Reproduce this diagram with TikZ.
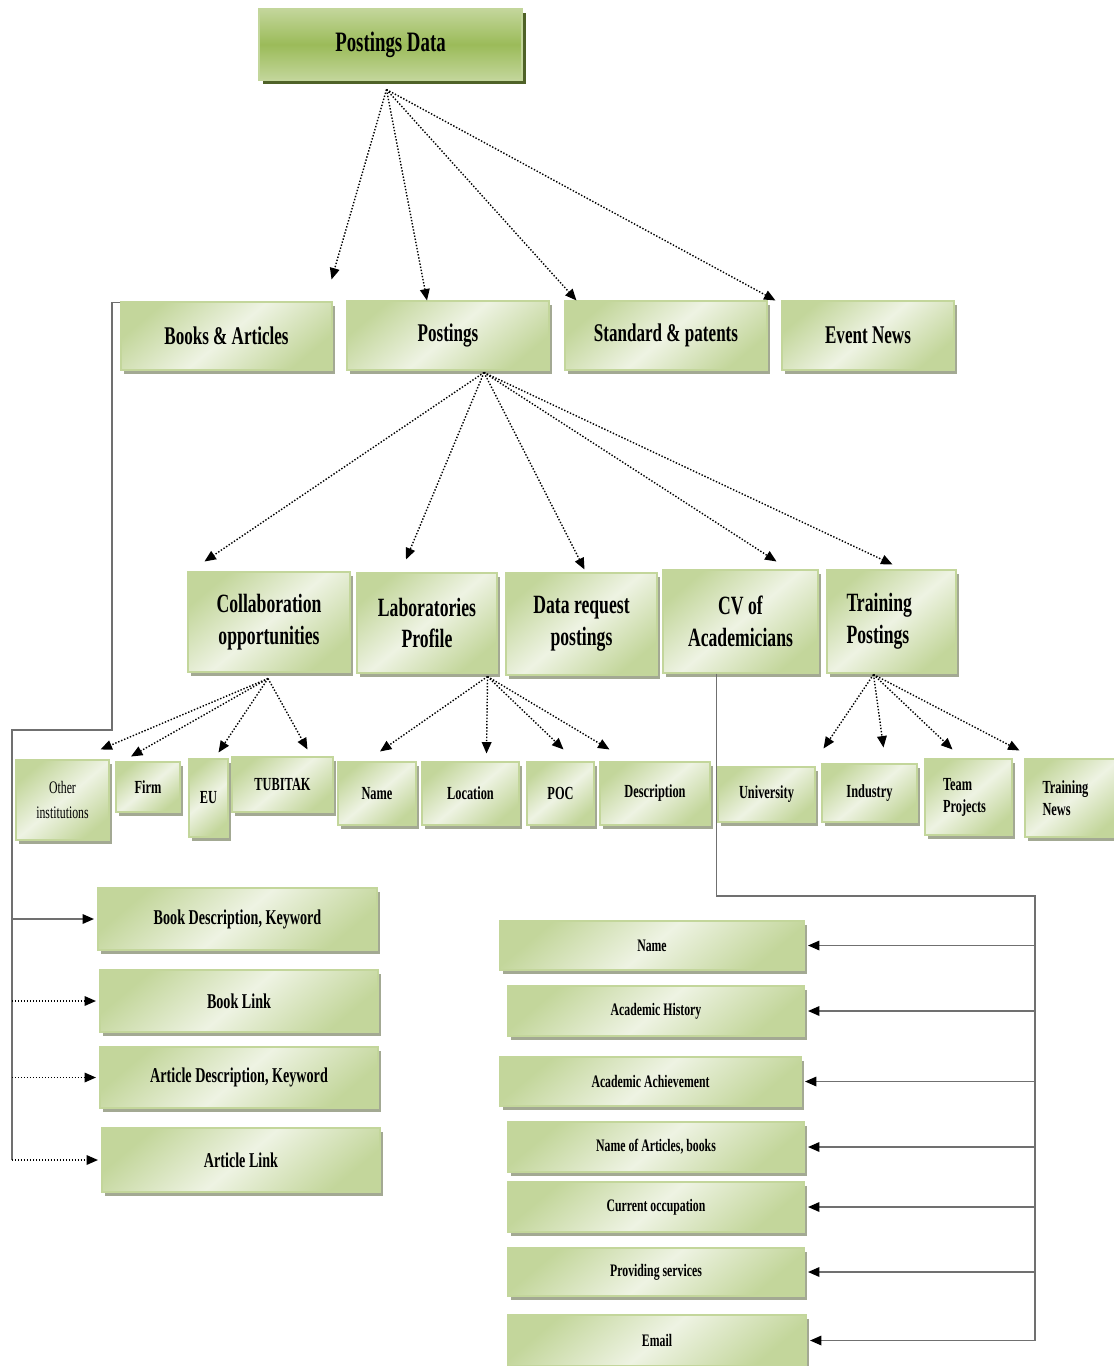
\documentclass[tikz,border=0pt]{standalone}
\usepackage{fontspec}
\setmainfont{Liberation Serif}[FakeStretch=0.67]
\usetikzlibrary{arrows.meta,shadows}

\definecolor{gedge}{HTML}{C3D69B}
\definecolor{glight}{HTML}{EEF3E3}
\definecolor{gmid}{HTML}{9BBB59}
\definecolor{gdark}{HTML}{4F6228}
\definecolor{shadowc}{HTML}{8C9478}
\definecolor{linkc}{HTML}{707070}

\begin{document}
\begin{tikzpicture}[x=0.02cm, y=-0.02cm,
  base/.style={draw=gedge, line width=0.6pt, align=center, inner sep=2pt},
  box/.style={base, top color=gedge, bottom color=gedge, middle color=glight, shading angle=40,
    drop shadow={shadow xshift=1.8pt, shadow yshift=-2.3pt, fill=shadowc, opacity=0.8}},
  topbox/.style={base, top color=gedge, bottom color=gedge, middle color=gmid, shading angle=0,
    drop shadow={shadow xshift=2.2pt, shadow yshift=-2.3pt, fill=gdark, opacity=1}},
  wh/.style 2 args={minimum width=#1*0.02cm, minimum height=#2*0.02cm},
  big/.style={font=\fontsize{16}{19}\selectfont\bfseries},
  mid/.style={font=\fontsize{14.5}{17}\selectfont\bfseries},
  lvl/.style={font=\fontsize{15}{18}\selectfont\bfseries},
  leaf/.style={font=\fontsize{10.5}{12.5}\selectfont\bfseries},
  item/.style={font=\fontsize{12}{14}\selectfont\bfseries},
  cvitem/.style={font=\fontsize{10}{12}\selectfont\bfseries},
  tip/.style={-{Triangle[length=6.5pt,width=5.5pt,color=black]}},
  conn/.style={tip, densely dotted, line width=0.8pt},
  link/.style={draw=linkc, line width=0.7pt},
  linkarr/.style={link, tip, shorten >=2pt},
  dotarr/.style={linkarr, densely dotted, draw=black}]

\useasboundingbox (0,0) rectangle (1113,1366);

% top level
\node[topbox, wh={263}{71}, big] (pd) at (390.5,44.5) {Postings Data};

% second level
\node[box, wh={211}{68}, mid] (ba) at (226.5,336) {Books \& Articles};
\node[box, wh={202}{69}, mid] (po) at (448,335.5) {Postings};
\node[box, wh={202}{69}, mid] (sp) at (666,335.5) {Standard \& patents};
\node[box, wh={172}{69}, mid] (en) at (868,335.5) {Event News};

% third level
\node[box, wh={162}{100}, lvl] (co) at (269,622) {Collaboration\\opportunities};
\node[box, wh={140}{100}, lvl] (lp) at (427,623) {Laboratories\\Profile};
\node[box, wh={151}{102}, lvl] (dr) at (581.5,624) {Data request\\postings};
\node[box, wh={155}{103}, lvl] (cv) at (740.5,621.5) {CV of\\Academicians};
\node[box, wh={129}{103}, lvl, align=left, text width=1.8cm] (tp) at (891.5,621.5) {Training\\Postings};

% leaves
\node[box, wh={93}{80}, leaf, font=\fontsize{10}{14}\selectfont] (oi) at (62.5,800) {Other\\institutions};
\node[box, wh={64}{50}, leaf] (fi) at (148,787) {Firm};
\node[box, wh={39}{78}, leaf] (eu) at (208.5,798) {EU};
\node[box, wh={101}{55}, leaf] (tb) at (282.5,784.5) {TUBITAK};
\node[box, wh={78}{63}, leaf] (nm) at (377,793.5) {Name};
\node[box, wh={97}{63}, leaf] (lo) at (470.5,793.5) {Location};
\node[box, wh={67}{63}, leaf] (pc) at (560.5,793.5) {POC};
\node[box, wh={110}{63}, leaf] (de) at (655,793.5) {Description};
\node[box, wh={97}{55}, leaf] (un) at (766.5,794.5) {University};
\node[box, wh={95}{58}, leaf] (in) at (869.5,793) {Industry};
\node[box, wh={87}{76}, leaf, align=left, text width=1.02cm] (tm) at (968.5,797) {Team\\Projects};
\node[box, wh={95}{78}, leaf, align=left, text width=1.2cm] (tn) at (1072.5,798) {Training\\News};

% books and articles
\node[box, wh={279}{62}, item] (bd) at (237.5,919) {Book Description, Keyword};
\node[box, wh={278}{62}, item] (bl) at (239,1001) {Book Link};
\node[box, wh={278}{61}, item] (ad) at (239,1077.5) {Article Description, Keyword};
\node[box, wh={278}{64}, item] (al) at (241,1160) {Article Link};

% cv of academicians
\node[box, wh={304}{49}, cvitem] (cn) at (652,945.5) {Name};
\node[box, wh={296}{50}, cvitem] (ah) at (656,1011) {Academic History};
\node[box, wh={301}{49}, cvitem] (aa) at (650.5,1081.5) {Academic Achievement};
\node[box, wh={296}{50}, cvitem] (na) at (656,1147) {Name of Articles, books};
\node[box, wh={296}{50}, cvitem] (oc) at (656,1207) {Current occupation};
\node[box, wh={296}{48}, cvitem] (ps) at (656,1272) {Providing services};
\node[box, wh={298}{51}, cvitem] (em) at (657,1340.5) {Email};

% dotted arrows
\coordinate (pdo) at ([shift={(-4,9)}]pd.south);
\draw[conn] (pdo) -- ([shift={(-1,-22)}]ba.north east);
\draw[conn] (pdo) -- ([shift={(-21,0)}]po.north);
\draw[conn] (pdo) -- ([shift={(12,0)}]sp.north west);
\draw[conn] (pdo) -- ([shift={(-6,0)}]en.north west);

\coordinate (poo) at ([shift={(36,2)}]po.south);
\draw[conn] (poo) -- ([shift={(17,-10)}]co.north west);
\draw[conn] (poo) -- ([shift={(-21,-13)}]lp.north);
\draw[conn] (poo) -- ([shift={(3,-3)}]dr.north);
\draw[conn] (poo) -- ([shift={(36,-8)}]cv.north);
\draw[conn] (poo) -- ([shift={(1,-5)}]tp.north);

\coordinate (coo) at ([shift={(-1,6)}]co.south);
\draw[conn] (coo) -- ([shift={(-9,-10)}]oi.north east);
\draw[conn] (coo) -- ([shift={(-17,-5)}]fi.north);
\draw[conn] (coo) -- ([shift={(10,-6)}]eu.north);
\draw[conn] (coo) -- ([shift={(25,-7)}]tb.north);

\coordinate (lpo) at ([shift={(-10,3)}]lp.south east);
\draw[conn] (lpo) -- ([shift={(3,-10)}]nm.north);
\draw[conn] (lpo) -- ([shift={(16,-8)}]lo.north);
\draw[conn] (lpo) -- ([shift={(3,-12)}]pc.north);
\draw[conn] (lpo) -- ([shift={(10,-12)}]de.north west);

\coordinate (tpo) at ([shift={(-18,1)}]tp.south);
\draw[conn] (tpo) -- ([shift={(8,-18)}]un.north east);
\draw[conn] (tpo) -- ([shift={(14,-16)}]in.north);
\draw[conn] (tpo) -- ([shift={(-16,-9)}]tm.north);
\draw[conn] (tpo) -- ([shift={(-5,-8)}]tn.north west);

% bracket lines
\coordinate (lbus) at (12,730);
\draw[link] ([shift={(0,1)}]ba.north west) -| (112,730) -| (lbus |- al.west);
\draw[linkarr] (lbus |- bd.west) -- (bd.west);
\foreach \n in {bl,ad,al}
  \draw[dotarr] (lbus |- \n.west) -- (\n.west);

\coordinate (rbus) at (1035,896);
\draw[link] ([shift={(-24,0)}]cv.south) |- (rbus) -- (rbus |- em.east);
\foreach \n in {cn,ah,aa,na,oc,ps,em}
  \draw[linkarr] (rbus |- \n.east) -- (\n.east);
\end{tikzpicture}
\end{document}
